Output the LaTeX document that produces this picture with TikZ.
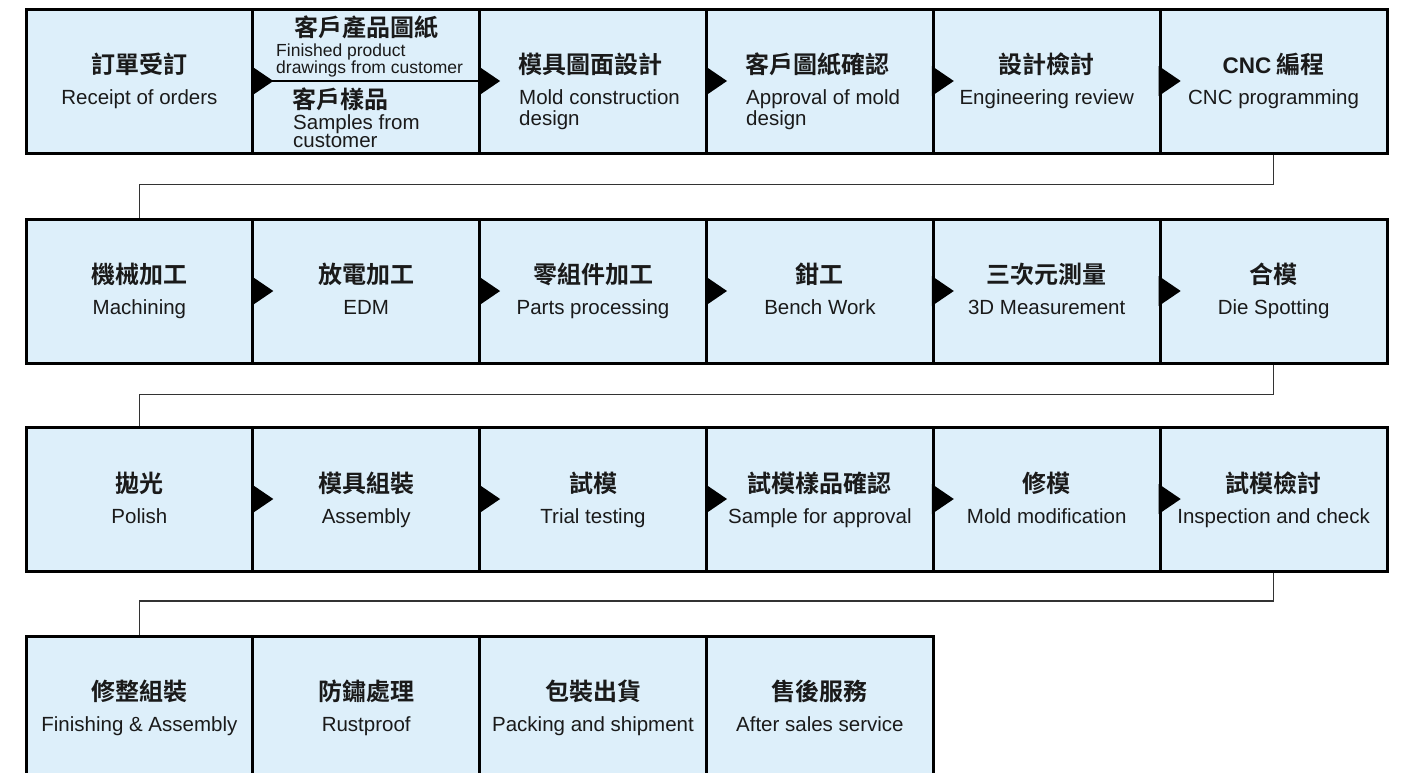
\documentclass[tikz,border=0pt]{standalone}
\usepackage{fontspec}
\setmainfont{Liberation Sans}
\newfontfamily\cjk{Noto Sans CJK TC}[BoldFont={Noto Sans CJK TC Bold}]
\definecolor{boxfill}{HTML}{DDEFFA}
\definecolor{linkgray}{HTML}{333333}
\definecolor{txt}{HTML}{1A1A1A}
\tikzset{
  stepbox/.style={draw=black, line width=3pt, fill=boxfill, rectangle,
    minimum width=226.8pt, minimum height=144pt, inner sep=0pt},
  zh/.style={font=\cjk\bfseries\fontsize{24}{27}\selectfont, text=txt, inner sep=0pt, anchor=base},
  en/.style={font=\fontsize{20.5}{22}\selectfont, text=txt, inner sep=0pt, anchor=base},
  ensmall/.style={font=\fontsize{17.5}{19}\selectfont, text=txt, inner sep=0pt, anchor=base west},
  link/.style={draw=linkgray, line width=1.6pt},
  splitline/.style={draw=black, line width=2pt},
  tri/.style={fill=black}
}
\newcommand{\arrowin}[1]{\fill[tri] (#1.west) ++(0,-15) -- ++(22,15) -- ++(-22,15) -- cycle;}
\begin{document}
\begin{tikzpicture}[x=1pt,y=-1pt]
\useasboundingbox (0,0) rectangle (1404,772);
\clip (0,0) rectangle (1404,772);
% column centres
\def\ca{139.4}\def\cb{366.2}\def\cc{593.0}\def\cd{819.9}\def\ce{1046.7}\def\cf{1273.6}
% row 1 boxes
\node[stepbox] (b11) at (\ca,81) {};
\node[stepbox] (b12) at (\cb,81) {};
\node[stepbox] (b13) at (\cc,81) {};
\node[stepbox] (b14) at (\cd,81) {};
\node[stepbox] (b15) at (\ce,81) {};
\node[stepbox] (b16) at (\cf,81) {};
% row 2 boxes
\node[stepbox] (b21) at (\ca,291) {};
\node[stepbox] (b22) at (\cb,291) {};
\node[stepbox] (b23) at (\cc,291) {};
\node[stepbox] (b24) at (\cd,291) {};
\node[stepbox] (b25) at (\ce,291) {};
\node[stepbox] (b26) at (\cf,291) {};
% row 3 boxes
\node[stepbox] (b31) at (\ca,499) {};
\node[stepbox] (b32) at (\cb,499) {};
\node[stepbox] (b33) at (\cc,499) {};
\node[stepbox] (b34) at (\cd,499) {};
\node[stepbox] (b35) at (\ce,499) {};
\node[stepbox] (b36) at (\cf,499) {};
% row 4 boxes
\node[stepbox] (b41) at (\ca,708) {};
\node[stepbox] (b42) at (\cb,708) {};
\node[stepbox] (b43) at (\cc,708) {};
\node[stepbox] (b44) at (\cd,708) {};
% split inside b12
\draw[splitline] (b12.west) -- (b12.east);
% arrows
\arrowin{b12}\arrowin{b13}\arrowin{b14}\arrowin{b15}\arrowin{b16}
\arrowin{b22}\arrowin{b23}\arrowin{b24}\arrowin{b25}\arrowin{b26}
\arrowin{b32}\arrowin{b33}\arrowin{b34}\arrowin{b35}\arrowin{b36}
% connectors between rows
\draw[link] (b16.south) -- ++(0,30) -| (b21.north);
\draw[link] (b26.south) -- ++(0,30) -| (b31.north);
\draw[link] (b36.south) -- ++(0,28.5) -| (b41.north);
% ---- row 1 texts
\node[zh] (z11) at (\ca,73.5) {訂單受訂};
\node[en] (e11) at (\ca,104.5) {Receipt of orders};
\node[zh] (z12a) at (\cb,36.5) {客戶產品圖紙};
\node[ensmall] (e12a) at (276,56) {Finished product};
\node[ensmall] (e12b) at (276,73) {drawings from customer};
\node[zh, anchor=base west] (z12b) at (292,108) {客戶樣品};
\node[en, anchor=base west] (e12c) at (293,129) {Samples from};
\node[en, anchor=base west] (e12d) at (293,147.5) {customer};
\node[zh, anchor=base west] (z13) at (518,73.5) {模具圖面設計};
\node[en, anchor=base west] (e13a) at (519,104.5) {Mold construction};
\node[en, anchor=base west] (e13b) at (519,125.5) {design};
\node[zh, anchor=base west] (z14) at (745,73.5) {客戶圖紙確認};
\node[en, anchor=base west] (e14a) at (746,104.5) {Approval of mold};
\node[en, anchor=base west] (e14b) at (746,125.5) {design};
\node[zh] (z15) at (\ce,73.5) {設計檢討};
\node[en] (e15) at (\ce,104.5) {Engineering review};
\node[zh] (z16) at (\cf,73.5) {{\rmfamily\fontsize{22.5}{26}\selectfont\bfseries CNC} 編程};
\node[en] (e16) at (\cf,104.5) {CNC programming};
% ---- row 2 texts
\node[zh] (z21) at (\ca,283.5) {機械加工};
\node[en] (e21) at (\ca,314.5) {Machining};
\node[zh] (z22) at (\cb,283.5) {放電加工};
\node[en] (e22) at (\cb,314.5) {EDM};
\node[zh] (z23) at (\cc,283.5) {零組件加工};
\node[en] (e23) at (\cc,314.5) {Parts processing};
\node[zh] (z24) at (\cd,283.5) {鉗工};
\node[en] (e24) at (\cd,314.5) {Bench Work};
\node[zh] (z25) at (\ce,283.5) {三次元測量};
\node[en] (e25) at (\ce,314.5) {3D Measurement};
\node[zh] (z26) at (\cf,283.5) {合模};
\node[en] (e26) at (\cf,314.5) {Die Spotting};
% ---- row 3 texts
\node[zh] (z31) at (\ca,492.5) {拋光};
\node[en] (e31) at (\ca,523.5) {Polish};
\node[zh] (z32) at (\cb,492.5) {模具組裝};
\node[en] (e32) at (\cb,523.5) {Assembly};
\node[zh] (z33) at (\cc,492.5) {試模};
\node[en] (e33) at (\cc,523.5) {Trial testing};
\node[zh] (z34) at (\cd,492.5) {試模樣品確認};
\node[en] (e34) at (\cd,523.5) {Sample for approval};
\node[zh] (z35) at (\ce,492.5) {修模};
\node[en] (e35) at (\ce,523.5) {Mold modification};
\node[zh] (z36) at (\cf,492.5) {試模檢討};
\node[en] (e36) at (\cf,523.5) {Inspection and check};
% ---- row 4 texts
\node[zh] (z41) at (\ca,700.5) {修整組裝};
\node[en] (e41) at (\ca,731.5) {Finishing \& Assembly};
\node[zh] (z42) at (\cb,700.5) {防鏽處理};
\node[en] (e42) at (\cb,731.5) {Rustproof};
\node[zh] (z43) at (\cc,700.5) {包裝出貨};
\node[en] (e43) at (\cc,731.5) {Packing and shipment};
\node[zh] (z44) at (\cd,700.5) {售後服務};
\node[en] (e44) at (\cd,731.5) {After sales service};
\end{tikzpicture}
\end{document}
